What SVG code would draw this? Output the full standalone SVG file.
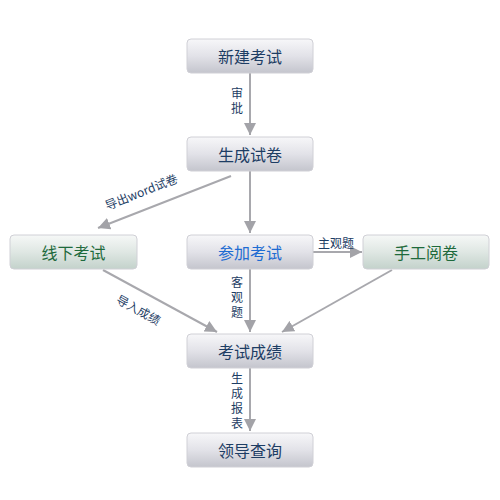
<svg xmlns="http://www.w3.org/2000/svg" width="500" height="500" viewBox="0 0 500 500">
<defs>
<linearGradient id="gGray" x1="0" y1="0" x2="0" y2="1">
<stop offset="0" stop-color="#f7f7f9"/>
<stop offset="0.5" stop-color="#e2e2e8"/>
<stop offset="1" stop-color="#c4c5cd"/>
</linearGradient>
<linearGradient id="gGreen" x1="0" y1="0" x2="0" y2="1">
<stop offset="0" stop-color="#f6f8f7"/>
<stop offset="0.5" stop-color="#dfe7e3"/>
<stop offset="1" stop-color="#c3d2cb"/>
</linearGradient>
<marker id="arr" viewBox="0 0 10 10" refX="10" refY="5" markerWidth="6" markerHeight="6" markerUnits="strokeWidth" orient="auto">
<path d="M0,0 L10,5 L0,10 z" fill="#a3a3a8"/>
</marker>
</defs>
<style>
.box{stroke:#d0d0d6;stroke-width:1}
.gray{fill:url(#gGray)}
.green{fill:url(#gGreen)}
.t{font-family:"Noto Sans CJK SC","Liberation Sans",sans-serif;font-size:16px;text-anchor:middle;dominant-baseline:central}
.navy{fill:#1d3d64}
.blue{fill:#1e6cd2}
.grn{fill:#1e6a3c}
.lbl{font-family:"Noto Sans CJK SC","Liberation Sans",sans-serif;font-size:12px;fill:#1d3d64;text-anchor:middle;dominant-baseline:central}
.v{writing-mode:vertical-rl;letter-spacing:3px}
.c{stroke:#a8a8ad;stroke-width:2;fill:none;marker-end:url(#arr)}
</style>
<rect width="500" height="500" fill="#ffffff"/>
<g id="connectors">
<line class="c" x1="250" y1="73" x2="250" y2="135"/>
<line class="c" x1="250" y1="171" x2="250" y2="233"/>
<line class="c" x1="231" y1="176" x2="98" y2="228"/>
<line class="c" x1="313" y1="252" x2="362" y2="252"/>
<line class="c" x1="103" y1="270" x2="217" y2="332"/>
<line class="c" x1="250" y1="269" x2="250" y2="332"/>
<line class="c" x1="392" y1="270" x2="282" y2="332"/>
<line class="c" x1="250" y1="368" x2="250" y2="431"/>
<text class="lbl v" x="237" y="102">审批</text>
<text class="lbl" transform="translate(141,191) rotate(-21.5)">导出word试卷</text>
<text class="lbl" x="336" y="242">主观题</text>
<text class="lbl v" x="237" y="299">客观题</text>
<text class="lbl v" x="237" y="402">生成报表</text>
<text class="lbl" transform="translate(139,309) rotate(29)">导入成绩</text>
</g>
<g id="n1"><rect class="box gray" x="187" y="39" width="126" height="34" rx="4"/><text class="t navy" x="250" y="56">新建考试</text></g>
<g id="n2"><rect class="box gray" x="187" y="137" width="126" height="34" rx="4"/><text class="t navy" x="250" y="154">生成试卷</text></g>
<g id="n3"><rect class="box green" x="10" y="235" width="127" height="34" rx="4"/><text class="t grn" x="73.5" y="252">线下考试</text></g>
<g id="n4"><rect class="box gray" x="187" y="235" width="126" height="34" rx="4"/><text class="t blue" x="250" y="252">参加考试</text></g>
<g id="n5"><rect class="box green" x="363" y="235" width="126" height="34" rx="4"/><text class="t grn" x="426" y="252">手工阅卷</text></g>
<g id="n6"><rect class="box gray" x="187" y="334" width="126" height="34" rx="4"/><text class="t navy" x="250" y="351">考试成绩</text></g>
<g id="n7"><rect class="box gray" x="187" y="433" width="126" height="34" rx="4"/><text class="t navy" x="250" y="450">领导查询</text></g>
</svg>
